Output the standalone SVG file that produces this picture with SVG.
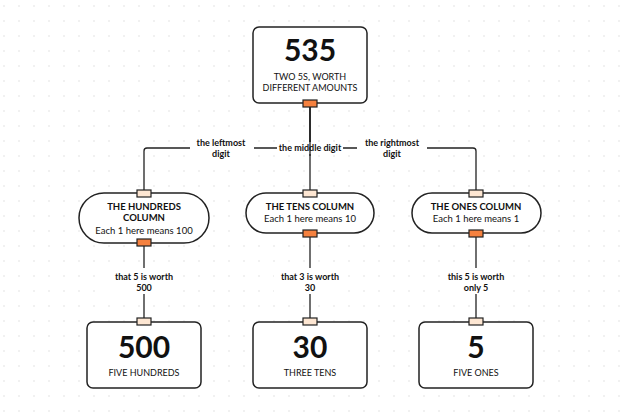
<svg xmlns="http://www.w3.org/2000/svg" width="620" height="415" viewBox="0 0 620 415">
<defs>
<pattern id="dots" x="3" y="5" width="15" height="15" patternUnits="userSpaceOnUse">
<circle cx="1" cy="1" r="0.75" fill="#dcdcdc"/>
</pattern>
<style>
.box{fill:#fff;stroke:#222;stroke-width:1.5}
.pin{fill:#fde6d2;stroke:#222;stroke-width:1.2}
.pout{fill:#f5813f;stroke:#222;stroke-width:1.2}
.edge{fill:none;stroke:#222;stroke-width:1.3}
text{font-family:Lato,"Liberation Sans",sans-serif;fill:#111;text-anchor:middle}
.big{font-size:30px;font-weight:700}
.cap{font-size:9px}
.title{font-size:9.5px;font-weight:700}
.sub{font-size:9.5px}
.lbl{font-size:9px;font-weight:700}
</style>
</defs>
<rect width="620" height="415" fill="#fff"/>
<rect width="620" height="415" fill="url(#dots)"/>

<g id="connectors">
<path class="edge" d="M310 107 V190"/>
<path class="edge" d="M310 107 V148 H147 Q144 148 144 151 V190"/>
<path class="edge" d="M310 107 V148 H473 Q476 148 476 151 V190"/>
<path class="edge" d="M144 246 V318"/>
<path class="edge" d="M310 237 V318"/>
<path class="edge" d="M476 237 V318"/>
<g id="edge-labels">
<rect x="190" y="137" width="64" height="23" fill="#fff"/>
<rect x="277" y="142" width="66" height="12" fill="#fff"/>
<rect x="357" y="137" width="70" height="23" fill="#fff"/>
<path class="edge" d="M310 140 V156"/>
<text class="lbl" x="221" y="146">the leftmost</text>
<text class="lbl" x="221" y="157">digit</text>
<text class="lbl" x="310" y="151">the middle digit</text>
<text class="lbl" x="392" y="146">the rightmost</text>
<text class="lbl" x="392" y="157">digit</text>
<rect x="108" y="268" width="72" height="26" fill="#fff"/>
<rect x="274" y="268" width="72" height="26" fill="#fff"/>
<rect x="440" y="268" width="72" height="26" fill="#fff"/>
<text class="lbl" x="144" y="280">that 5 is worth</text>
<text class="lbl" x="144" y="291">500</text>
<text class="lbl" x="310" y="280">that 3 is worth</text>
<text class="lbl" x="310" y="291">30</text>
<text class="lbl" x="476" y="280">this 5 is worth</text>
<text class="lbl" x="476" y="291">only 5</text>
</g>
</g>

<g id="node-535">
<rect class="box" x="253" y="27" width="114" height="76" rx="6"/>
<text class="big" x="310" y="61">535</text>
<text class="cap" x="310" y="80">TWO 5S, WORTH</text>
<text class="cap" x="310" y="91">DIFFERENT AMOUNTS</text>
<rect class="pout" x="303" y="100" width="14" height="7"/>
</g>

<g id="node-hundreds">
<rect class="box" x="79" y="193" width="130" height="50" rx="25"/>
<text class="title" x="144" y="210">THE HUNDREDS</text>
<text class="title" x="144" y="221">COLUMN</text>
<text class="sub" x="144" y="234">Each 1 here means 100</text>
<rect class="pin" x="137" y="190" width="14" height="7"/>
<rect class="pout" x="137" y="239" width="14" height="7"/>
</g>

<g id="node-tens">
<rect class="box" x="246" y="193" width="128" height="40" rx="20"/>
<text class="title" x="310" y="210">THE TENS COLUMN</text>
<text class="sub" x="310" y="222">Each 1 here means 10</text>
<rect class="pin" x="303" y="190" width="14" height="7"/>
<rect class="pout" x="303" y="230" width="14" height="7"/>
</g>

<g id="node-ones">
<rect class="box" x="412" y="193" width="129" height="40" rx="20"/>
<text class="title" x="476" y="210">THE ONES COLUMN</text>
<text class="sub" x="476" y="222">Each 1 here means 1</text>
<rect class="pin" x="469" y="190" width="14" height="7"/>
<rect class="pout" x="469" y="230" width="14" height="7"/>
</g>

<g id="node-500">
<rect class="box" x="87" y="322" width="114" height="66" rx="6"/>
<text class="big" x="144" y="358">500</text>
<text class="cap" x="144" y="376">FIVE HUNDREDS</text>
<rect class="pin" x="137" y="318" width="14" height="7"/>
</g>

<g id="node-30">
<rect class="box" x="253" y="322" width="114" height="66" rx="6"/>
<text class="big" x="310" y="358">30</text>
<text class="cap" x="310" y="376">THREE TENS</text>
<rect class="pin" x="303" y="318" width="14" height="7"/>
</g>

<g id="node-5">
<rect class="box" x="419" y="322" width="114" height="66" rx="6"/>
<text class="big" x="476" y="358">5</text>
<text class="cap" x="476" y="376">FIVE ONES</text>
<rect class="pin" x="469" y="318" width="14" height="7"/>
</g>
</svg>
